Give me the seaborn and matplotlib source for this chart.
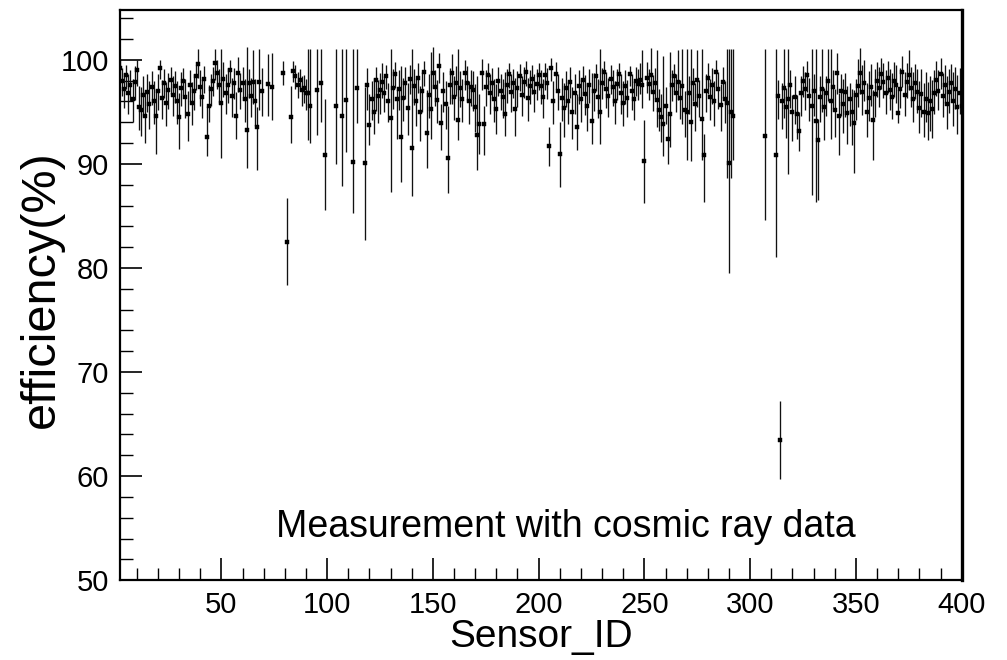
import matplotlib
matplotlib.use("Agg")
import matplotlib.pyplot as plt
import seaborn as sns
import numpy as np
import pandas as pd
from matplotlib.ticker import MultipleLocator

sns.set_style("ticks")
plt.rcParams['font.family'] = ['Liberation Sans', 'DejaVu Sans']
plt.rcParams.update({"text.color": "black", "axes.labelcolor": "black",
                     "xtick.color": "black", "ytick.color": "black",
                     "axes.edgecolor": "black"})

# sensors that have a measurement (gaps = no data)
sensor_id = [*range(1, 70), 72, 74, 79, 81, *range(83, 93), 95, 97, 99, 104, 107, 109,
             112, 114, *range(118, 293), 307, 312, *range(313, 401)]

eff = [
    # 1-69
    98.8, 99.2, 98.0, 97.2, 98.5, 96.8, 97.6, 96.2, 97.9, 99.0,
    95.5, 95.2, 96.6, 94.6, 96.9, 95.8, 97.4, 96.0, 94.6, 97.0,
    99.2, 96.3, 97.8, 95.9, 97.1, 98.1, 96.6, 97.5, 96.0, 94.5,
    97.3, 98.0, 96.4, 94.8, 97.6, 95.9, 97.0, 98.4, 99.6, 97.4,
    96.4, 98.2, 92.6, 95.6, 97.2, 98.0, 99.7, 98.7, 97.6, 95.9,
    98.2, 96.8, 97.6, 99.0, 96.5, 97.8, 94.6, 98.7, 97.1, 97.8,
    96.2, 93.3, 97.8, 96.5, 97.9, 96.0, 93.5, 97.9, 97.0,
    # 72 .. 114
    97.7, 97.4, 98.7, 82.5, 94.5, 98.9, 98.4, 97.6, 98.1, 97.1,
    97.3, 96.8, 96.8, 95.6, 97.1, 97.8, 90.9, 95.6, 94.6, 96.1,
    90.2, 97.3,
    # 118-200
    90.1, 97.6, 93.7, 96.2, 95.0, 98.1, 96.5, 97.1, 97.9, 96.8,
    98.4, 96.0, 94.4, 97.3, 98.6, 96.2, 97.2, 92.6, 96.3, 97.8,
    95.4, 98.2, 91.5, 97.5, 96.0, 98.3, 95.0, 97.0, 98.8, 93.0,
    96.6, 95.3, 98.7, 97.4, 96.1, 99.4, 93.9, 97.0, 95.8, 90.6,
    97.6, 98.7, 96.4, 97.8, 94.2, 97.3, 96.2, 98.7, 97.8, 96.0,
    97.4, 97.1, 95.5, 92.8, 93.8, 98.7, 93.8, 97.4, 98.5, 96.8,
    97.8, 96.2, 95.3, 98.0, 97.0, 96.4, 94.8, 97.6, 98.6, 96.9,
    97.8, 95.3, 97.3, 98.4, 96.6, 97.9, 98.8, 96.3, 97.5, 98.2,
    96.9, 97.7, 98.5,
    # 201-267
    97.5, 96.4, 98.5, 97.8, 91.7, 99.2, 96.0, 98.6, 97.0, 91.0,
    96.3, 95.4, 97.3, 96.0, 97.9, 95.0, 96.8, 93.5, 97.5, 96.2,
    98.1, 96.7, 95.6, 97.6, 94.1, 97.0, 98.4, 96.4, 95.0, 97.8,
    98.8, 97.2, 96.5, 98.2, 97.4, 96.0, 97.7, 98.6, 96.8, 95.9,
    97.5, 96.3, 98.6, 97.0, 96.2, 98.0, 97.7, 98.1, 97.6, 90.3,
    98.3, 97.7, 98.5, 96.9, 97.8, 96.1, 95.2, 94.5, 93.8, 95.6,
    92.4, 94.8, 97.6, 98.4, 96.8, 97.9, 96.3,
    # 268-292
    97.5, 95.2, 95.0, 96.8, 94.0, 97.8, 95.8, 98.1, 96.5, 94.3,
    90.9, 97.0, 98.3, 96.4, 97.6, 96.0, 98.8, 97.2, 95.7, 97.9,
    96.2, 95.9, 90.1, 95.0, 94.6,
    # 307, 312
    92.7, 90.9,
    # 313-400
    96.5, 63.5, 96.0, 97.3, 95.5, 96.2, 97.6, 95.0, 96.4, 94.8,
    93.2, 96.8, 98.0, 97.2, 98.5, 96.5, 95.6, 97.0, 94.1, 92.3,
    96.4, 97.2, 95.5, 96.8, 98.0, 96.0, 97.4, 95.2, 98.7, 94.6,
    97.0, 95.8, 96.9, 94.9, 96.2, 95.0, 93.9, 96.6, 97.5, 98.7,
    96.9, 97.8, 95.0, 96.3, 97.4, 94.2, 96.7, 98.0, 97.3, 98.6,
    97.9, 96.8, 98.3, 97.1, 96.4, 98.0, 97.6, 94.9, 97.2, 98.8,
    96.6, 97.9, 98.5, 97.3, 96.2, 97.8, 96.9, 95.4, 96.7, 95.0,
    96.2, 94.9, 96.0, 95.3, 96.8, 98.1, 97.0, 98.6, 96.5, 97.6,
    95.8, 96.9, 97.8, 96.0, 97.2, 95.5, 96.8, 95.6,
]

err_lo = [
    1.0, 1.2, 1.5, 1.8, 1.3, 2.0, 1.6, 2.2, 1.8, 1.5,
    2.2, 2.5, 2.0, 2.6, 1.9, 2.4, 1.7, 2.2, 3.6, 1.8,
    1.0, 2.0, 1.5, 2.3, 1.8, 1.4, 2.0, 1.6, 2.2, 3.1,
    1.7, 1.4, 2.0, 2.6, 1.6, 2.2, 1.8, 1.3, 1.3, 1.8,
    2.0, 1.4, 1.8, 1.6, 1.6, 1.5, 1.6, 1.5, 1.7, 5.3,
    1.8, 2.0, 1.7, 1.2, 2.0, 1.6, 2.2, 1.8, 1.8, 1.7,
    2.2, 3.7, 1.5, 2.0, 2.1, 2.4, 4.1, 2.7, 2.4,
    3.1, 3.2, 1.1, 4.1, 2.5, 1.0, 1.2, 1.3, 1.1, 1.5,
    1.4, 1.6, 4.5, 3.6, 4.3, 3.8, 5.3, 5.6, 6.7, 5.0,
    4.9, 3.4,
    7.4, 2.4, 1.9, 2.0, 2.1, 3.0, 2.6, 2.3, 1.6, 1.8,
    1.2, 2.0, 7.1, 2.0, 1.3, 3.8, 2.0, 4.3, 2.2, 1.6,
    2.6, 1.5, 4.6, 1.8, 2.4, 1.5, 2.8, 2.0, 1.3, 3.4,
    2.2, 2.9, 1.4, 1.8, 2.2, 1.6, 2.6, 2.0, 2.4, 3.4,
    1.8, 2.9, 2.2, 1.3, 1.9, 1.8, 2.2, 1.6, 1.8, 2.2,
    1.8, 2.0, 2.4, 3.4, 2.8, 1.6, 2.9, 1.8, 1.4, 2.0,
    1.6, 2.2, 2.4, 1.5, 1.8, 2.0, 2.1, 1.7, 1.3, 1.9,
    1.5, 2.6, 1.8, 1.4, 2.0, 1.6, 1.3, 2.2, 1.7, 1.5,
    1.9, 1.6, 1.4,
    1.7, 2.0, 1.4, 1.6, 1.9, 1.2, 2.2, 1.4, 1.8, 3.2,
    2.2, 2.8, 1.8, 2.2, 1.6, 2.6, 2.0, 2.2, 1.7, 2.2,
    1.5, 2.0, 2.4, 1.7, 2.2, 1.9, 1.4, 2.0, 3.1, 1.6,
    1.3, 1.8, 2.0, 1.5, 1.8, 2.2, 1.6, 1.3, 2.0, 2.3,
    1.7, 1.8, 1.1, 1.8, 2.0, 1.5, 1.6, 1.4, 2.2, 4.1,
    1.5, 1.6, 1.6, 1.8, 1.6, 2.6, 2.0, 2.4, 3.0, 1.8,
    2.4, 3.2, 1.6, 1.4, 1.8, 1.8, 2.0,
    3.7, 2.6, 4.6, 2.0, 3.7, 1.8, 2.6, 2.6, 2.0, 3.9,
    4.6, 2.0, 1.6, 2.2, 1.8, 2.4, 1.4, 1.9, 2.5, 1.6,
    2.3, 7.3, 10.6, 6.4, 4.2,
    8.1, 9.8,
    2.2, 3.8, 2.6, 2.9, 3.0, 7.2, 2.2, 2.8, 2.6, 2.4,
    2.0, 2.2, 1.6, 2.0, 1.6, 2.4, 8.6, 2.4, 7.8, 5.8,
    2.4, 2.2, 3.2, 2.2, 2.0, 3.6, 2.0, 2.6, 2.0, 3.7,
    2.4, 2.8, 2.4, 3.0, 2.6, 3.2, 4.8, 2.4, 2.0, 2.0,
    2.2, 1.8, 2.4, 2.2, 1.8, 3.8, 2.2, 1.6, 1.8, 1.4,
    1.6, 2.0, 1.5, 1.9, 2.1, 1.6, 1.7, 1.0, 1.8, 1.4,
    2.0, 1.6, 1.4, 1.8, 2.2, 1.6, 2.0, 2.4, 2.2, 2.4,
    2.2, 2.6, 2.8, 2.8, 2.0, 1.6, 1.8, 1.4, 2.0, 1.7,
    2.4, 2.0, 1.6, 2.4, 1.9, 2.6, 2.0, 2.4,
]

err_hi = [
    1.0, 0.9, 1.2, 1.5, 1.0, 1.8, 1.4, 2.0, 1.5, 1.0,
    2.0, 2.2, 1.8, 2.4, 1.7, 2.2, 1.5, 2.0, 2.6, 1.6,
    0.8, 1.8, 1.3, 2.0, 1.6, 1.2, 1.8, 1.4, 2.0, 2.3,
    1.5, 1.2, 1.8, 2.2, 1.4, 2.0, 1.6, 1.1, 1.4, 1.6,
    1.8, 1.2, 3.0, 2.0, 1.4, 1.3, 1.3, 1.3, 1.5, 5.1,
    1.6, 1.8, 1.6, 1.0, 1.8, 1.4, 2.3, 1.6, 1.6, 1.5,
    2.0, 7.9, 1.3, 1.8, 3.0, 2.2, 2.0, 3.1, 2.2,
    2.9, 3.3, 1.2, 4.2, 3.0, 1.0, 1.1, 1.2, 1.0, 1.3,
    1.2, 1.4, 4.2, 5.4, 3.9, 3.2, 5.3, 5.4, 6.4, 4.9,
    10.8, 3.7,
    7.3, 1.6, 3.0, 1.8, 3.3, 1.2, 1.6, 1.6, 1.8, 1.6,
    1.1, 1.8, 6.6, 1.8, 1.2, 1.0, 1.8, 6.8, 2.0, 1.5,
    2.4, 1.3, 9.5, 1.6, 2.2, 1.4, 2.5, 1.8, 1.1, 4.1,
    2.0, 5.5, 2.5, 1.6, 2.0, 1.3, 1.9, 1.8, 2.2, 5.0,
    1.6, 1.9, 2.0, 1.6, 6.8, 1.6, 2.0, 1.3, 1.6, 2.0,
    1.6, 1.8, 2.2, 5.6, 2.9, 1.4, 1.8, 1.6, 1.2, 1.8,
    1.4, 2.0, 2.4, 1.3, 1.6, 1.8, 4.0, 1.5, 1.1, 1.7,
    1.3, 3.0, 1.6, 1.2, 1.8, 1.4, 1.1, 2.0, 1.5, 1.3,
    1.7, 1.4, 1.2,
    1.5, 1.8, 1.2, 1.4, 1.8, 1.0, 2.0, 1.2, 1.6, 3.0,
    2.0, 2.4, 1.6, 2.0, 1.4, 2.4, 1.8, 3.2, 1.5, 2.0,
    1.3, 1.8, 2.2, 1.5, 4.6, 1.7, 1.2, 1.8, 6.0, 1.4,
    1.1, 1.6, 1.8, 1.3, 1.6, 2.0, 1.4, 1.1, 1.8, 2.1,
    1.5, 1.8, 0.8, 1.6, 1.8, 1.3, 1.4, 1.6, 3.3, 3.9,
    1.5, 1.4, 2.6, 1.6, 1.4, 4.8, 2.0, 2.2, 6.6, 1.8,
    2.4, 6.0, 1.4, 1.2, 1.8, 3.0, 1.8,
    3.5, 1.8, 6.0, 1.6, 7.0, 1.4, 2.0, 2.8, 1.6, 6.7,
    2.0, 1.6, 1.4, 1.8, 1.6, 2.0, 1.2, 1.6, 2.0, 1.4,
    1.8, 5.1, 10.9, 6.0, 6.4,
    8.3, 10.1,
    1.6, 3.7, 1.8, 3.7, 1.8, 4.8, 1.4, 1.6, 2.0, 1.8,
    1.8, 1.6, 1.4, 1.6, 1.4, 1.8, 5.4, 1.6, 6.9, 2.0,
    2.0, 3.8, 1.8, 1.6, 3.0, 5.0, 1.6, 2.0, 2.0, 2.2,
    1.6, 2.4, 1.8, 2.6, 1.6, 2.2, 3.2, 1.6, 2.6, 2.4,
    2.6, 2.2, 2.8, 2.6, 2.2, 2.9, 2.4, 1.8, 2.0, 1.6,
    1.8, 2.2, 1.6, 2.0, 2.3, 1.8, 1.9, 2.2, 2.0, 1.6,
    2.2, 1.8, 2.4, 2.0, 2.6, 1.8, 2.2, 2.6, 2.4, 2.8,
    2.6, 3.0, 2.4, 2.8, 2.2, 1.8, 2.0, 1.6, 2.2, 1.9,
    2.6, 2.2, 1.8, 2.8, 2.1, 3.0, 2.4, 2.8,
]

df = pd.DataFrame({"Sensor_ID": sensor_id, "eff": eff, "lo": err_lo, "hi": err_hi})
# upper edge of the bars is bounded just above 100 %
df["top"] = np.minimum(df["eff"] + df["hi"], 101.2)
df["bottom"] = df["eff"] - df["lo"]

fig = plt.figure(figsize=(10.07, 6.6), dpi=100)
ax = fig.add_axes([0.119, 0.121, 0.836, 0.864])

ax.vlines(df["Sensor_ID"], df["bottom"], df["top"], color="#111111", lw=0.95)
sns.scatterplot(data=df, x="Sensor_ID", y="eff", marker="s", s=11, color="black",
                edgecolor="black", linewidth=0.3, ax=ax, zorder=3)

ax.set_xlim(2, 400)
ax.set_ylim(50, 104.8)
ax.xaxis.set_major_locator(MultipleLocator(50))
ax.xaxis.set_minor_locator(MultipleLocator(10))
ax.yaxis.set_minor_locator(MultipleLocator(2))
ax.set_yticks([50, 60, 70, 80, 90, 100])
ax.tick_params(which="major", direction="in", length=16, width=1.2, labelsize=21,
               top=False, right=False, pad=8)
ax.tick_params(which="minor", direction="in", length=9, width=1.0,
               top=False, right=False)

for side in ["left", "bottom", "top"]:
    ax.spines[side].set_linewidth(1.6)
ax.spines["right"].set_linewidth(2.4)

ax.set_xlabel("Sensor_ID", fontsize=28)
ax.xaxis.set_label_coords(0.5, -0.068)
ax.set_ylabel("efficiency(%)", fontsize=35)
ax.yaxis.set_label_coords(-0.066, 0.51)
ax.text(213, 55.1, "Measurement with cosmic ray data", fontsize=27,
        ha="center", va="center")

fig.savefig("out.png", dpi=100)
